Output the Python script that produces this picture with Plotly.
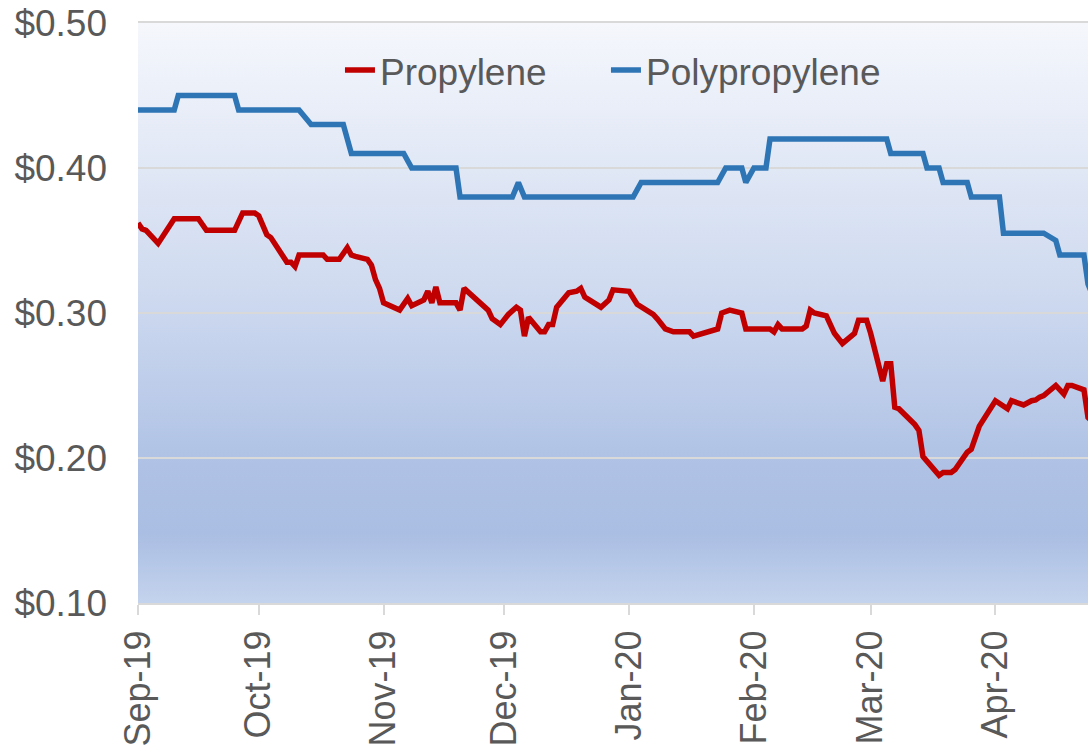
import base64
import plotly.graph_objects as go

# ---- Data ----
propylene_dates = [
    "2019-09-01", "2019-09-02", "2019-09-03", "2019-09-06", "2019-09-10", "2019-09-16",
    "2019-09-18", "2019-09-25", "2019-09-27", "2019-09-30", "2019-10-01", "2019-10-03",
    "2019-10-04", "2019-10-08", "2019-10-09", "2019-10-10", "2019-10-11", "2019-10-17",
    "2019-10-18", "2019-10-21", "2019-10-23", "2019-10-24", "2019-10-25", "2019-10-28",
    "2019-10-29", "2019-10-30", "2019-10-31", "2019-11-01", "2019-11-05", "2019-11-07",
    "2019-11-08", "2019-11-11", "2019-11-12", "2019-11-13", "2019-11-14", "2019-11-15",
    "2019-11-19", "2019-11-20", "2019-11-21", "2019-11-27", "2019-11-28", "2019-11-30",
    "2019-12-02", "2019-12-04", "2019-12-05", "2019-12-06", "2019-12-07", "2019-12-10",
    "2019-12-11", "2019-12-12", "2019-12-13", "2019-12-14", "2019-12-17", "2019-12-19",
    "2019-12-20", "2019-12-21", "2019-12-25", "2019-12-27", "2019-12-28", "2020-01-01",
    "2020-01-03", "2020-01-07", "2020-01-08", "2020-01-10", "2020-01-12", "2020-01-16",
    "2020-01-17", "2020-01-19", "2020-01-22", "2020-01-23", "2020-01-24", "2020-01-26",
    "2020-01-29", "2020-01-30", "2020-02-05", "2020-02-06", "2020-02-07", "2020-02-08",
    "2020-02-13", "2020-02-14", "2020-02-15", "2020-02-16", "2020-02-19", "2020-02-20",
    "2020-02-21", "2020-02-23", "2020-02-26", "2020-02-27", "2020-02-29", "2020-03-01",
    "2020-03-04", "2020-03-05", "2020-03-06", "2020-03-07", "2020-03-08", "2020-03-12",
    "2020-03-13", "2020-03-14", "2020-03-15", "2020-03-18", "2020-03-19", "2020-03-21",
    "2020-03-22", "2020-03-25", "2020-03-26", "2020-03-28", "2020-04-01", "2020-04-04",
    "2020-04-05", "2020-04-08", "2020-04-10", "2020-04-11", "2020-04-12", "2020-04-13",
    "2020-04-16", "2020-04-18", "2020-04-19", "2020-04-20", "2020-04-23", "2020-04-24",
    "2020-04-27",
]
propylene_prices = [
    0.362, 0.358, 0.357, 0.348, 0.365, 0.365,
    0.357, 0.357, 0.369, 0.369, 0.367, 0.354,
    0.352, 0.335, 0.335, 0.332, 0.340, 0.340,
    0.337, 0.337, 0.345, 0.340, 0.339, 0.337,
    0.333, 0.323, 0.317, 0.307, 0.302, 0.310,
    0.305, 0.309, 0.315, 0.307, 0.318, 0.307,
    0.307, 0.302, 0.317, 0.302, 0.296, 0.292,
    0.299, 0.304, 0.302, 0.284, 0.297, 0.287,
    0.287, 0.292, 0.292, 0.304, 0.314, 0.315,
    0.317, 0.311, 0.304, 0.309, 0.316, 0.315,
    0.306, 0.299, 0.296, 0.289, 0.287, 0.287,
    0.284, 0.286, 0.289, 0.289, 0.300, 0.302,
    0.300, 0.289, 0.289, 0.287, 0.292, 0.289,
    0.289, 0.291, 0.302, 0.300, 0.298, 0.291,
    0.286, 0.279, 0.286, 0.295, 0.295, 0.286,
    0.253, 0.265, 0.265, 0.235, 0.234, 0.223,
    0.219, 0.201, 0.198, 0.188, 0.190, 0.190,
    0.192, 0.204, 0.206, 0.222, 0.2395, 0.234,
    0.2395, 0.2366, 0.2395, 0.240, 0.242, 0.243,
    0.250, 0.244, 0.250, 0.250, 0.247, 0.228,
    0.220,
]

polypropylene_dates = [
    "2019-09-01", "2019-09-10", "2019-09-11", "2019-09-25", "2019-09-26", "2019-10-11",
    "2019-10-14", "2019-10-22", "2019-10-24", "2019-11-06", "2019-11-08", "2019-11-19",
    "2019-11-20", "2019-12-03", "2019-12-04 12:00", "2019-12-06", "2020-01-02", "2020-01-04",
    "2020-01-23", "2020-01-25", "2020-01-29", "2020-01-30", "2020-02-01", "2020-02-04",
    "2020-02-05", "2020-03-05", "2020-03-06", "2020-03-14", "2020-03-15", "2020-03-18",
    "2020-03-19", "2020-03-25", "2020-03-26", "2020-04-02", "2020-04-03", "2020-04-13",
    "2020-04-16", "2020-04-17", "2020-04-23", "2020-04-24", "2020-04-27",
]
polypropylene_prices = [
    0.44, 0.44, 0.45, 0.45, 0.44, 0.44,
    0.43, 0.43, 0.41, 0.41, 0.40, 0.40,
    0.38, 0.38, 0.39, 0.38, 0.38, 0.39,
    0.39, 0.40, 0.40, 0.39, 0.40, 0.40,
    0.42, 0.42, 0.41, 0.41, 0.40, 0.40,
    0.39, 0.39, 0.38, 0.38, 0.355, 0.355,
    0.350, 0.34, 0.34, 0.32, 0.30,
]

month_ticks = ["2019-09-01", "2019-10-01", "2019-11-01", "2019-12-01", "2020-01-01",
               "2020-02-01", "2020-03-01", "2020-04-01"]
month_labels = ["Sep-19", "Oct-19", "Nov-19", "Dec-19", "Jan-20", "Feb-20", "Mar-20", "Apr-20"]
y_ticks = [0.10, 0.20, 0.30, 0.40, 0.50]
y_labels = ["$0.10", "$0.20", "$0.30", "$0.40", "$0.50"]

# ---- Styling ----
FONT = "Liberation Sans, Arial, sans-serif"
TXT = "#595959"
GRID = "#d9d9d9"
FS = 37

svg = (
    '<svg xmlns="http://www.w3.org/2000/svg" width="100" height="100" viewBox="0 0 100 100" '
    'preserveAspectRatio="none"><defs><linearGradient id="g" x1="0" y1="0" x2="0" y2="1">'
    '<stop offset="0" stop-color="#f5f7fc"/>'
    '<stop offset="0.45" stop-color="#d0dbf0"/>'
    '<stop offset="0.76" stop-color="#afc2e5"/>'
    '<stop offset="0.88" stop-color="#aabee3"/>'
    '<stop offset="1" stop-color="#c4d3ed"/>'
    '</linearGradient></defs><rect x="0" y="0" width="100" height="100" fill="url(#g)"/></svg>'
)
svg_uri = "data:image/svg+xml;base64," + base64.b64encode(svg.encode()).decode()

fig = go.Figure()
fig.add_trace(go.Scatter(
    x=propylene_dates, y=propylene_prices, name="Propylene", mode="lines",
    line=dict(color="#c00000", width=5.5), legend="legend", showlegend=True,
))
fig.add_trace(go.Scatter(
    x=polypropylene_dates, y=polypropylene_prices, name="Polypropylene", mode="lines",
    line=dict(color="#2e75b6", width=5.5), legend="legend2", showlegend=True,
))

legend_common = dict(
    orientation="h", y=0.918, xanchor="left", yanchor="middle",
    bgcolor="rgba(0,0,0,0)", font=dict(family=FONT, size=FS, color=TXT),
    borderwidth=0, visible=True,
)

fig.update_layout(
    width=1088, height=747,
    showlegend=True,
    margin=dict(l=138, r=0, t=23, b=144, autoexpand=False),
    paper_bgcolor="white",
    plot_bgcolor="rgba(0,0,0,0)",
    font=dict(family=FONT, size=FS, color=TXT),
    images=[dict(source=svg_uri, xref="paper", yref="paper", x=0, y=1, sizex=1, sizey=1,
                 xanchor="left", yanchor="top", sizing="stretch", layer="below")],
    legend=dict(x=0.2126, **legend_common),
    legend2=dict(x=0.4926, **legend_common),
    xaxis=dict(
        type="date", range=["2019-09-01", "2020-04-24"], automargin=False,
        tickvals=month_ticks, ticktext=month_labels, tickangle=-90,
        ticks="outside", ticklen=10, tickwidth=2, tickcolor=GRID,
        showline=True, linecolor=GRID, linewidth=2, mirror=True,
        showgrid=False, zeroline=False, ticklabelstandoff=1,
        tickfont=dict(family=FONT, size=36, color=TXT),
    ),
    yaxis=dict(
        range=[0.10, 0.50], tickvals=y_ticks, ticktext=y_labels, automargin=False,
        showgrid=True, gridcolor=GRID, gridwidth=1.5, zeroline=False,
        showline=False, ticks="", ticklabelstandoff=30,
        tickfont=dict(family=FONT, size=FS, color=TXT),
    ),
)

fig.write_html(
    "out.html",
    config={"displayModeBar": False},
    post_script="document.body.style.margin='0';document.body.style.overflow='hidden';",
)
